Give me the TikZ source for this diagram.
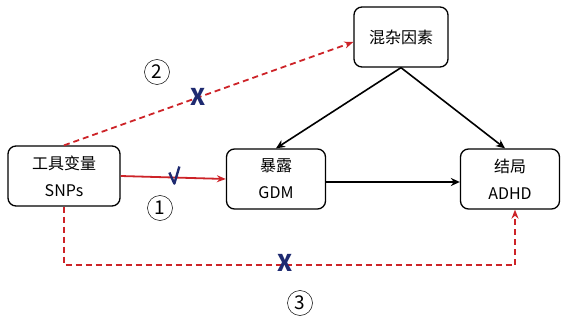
\documentclass[tikz,border=0pt]{standalone}
\usepackage{fontspec}
\setmainfont{Noto Sans CJK SC}
\usepackage{xcolor}
\usetikzlibrary{arrows.meta}
\definecolor{pathred}{RGB}{205,35,40}
\definecolor{marknavy}{RGB}{30,42,112}

\begin{document}
\begin{tikzpicture}[x=1pt,y=-1pt,
  varbox/.style={draw,line width=1.3pt,rounded corners=8pt,inner sep=0pt,align=center,
    minimum height=60pt,font=\fontsize{16}{27}\selectfont},
  causal/.style={line width=1.6pt,-{Stealth[length=9pt,width=8pt]}},
  ivpath/.style={pathred,line width=1.8pt,-{Stealth[length=9pt,width=7pt]}},
  ivdash/.style={ivpath,dash pattern=on 6pt off 4pt},
  marksign/.style={marknavy,font=\fontsize{23}{23}\selectfont\bfseries},
  tickmark/.style={marknavy,line width=2.4pt,line join=round},
  pathno/.style={circle,draw,line width=0.5pt,inner sep=0pt,minimum size=25pt,font=\fontsize{19}{19}\selectfont}]
\useasboundingbox (0,0) rectangle (565,326);
% variables
\node[varbox,minimum width=112pt] (iv) at (64,176) {工具变量\\SNPs};
\node[varbox,minimum width=94pt] (conf) at (401,37) {混杂因素};
\node[varbox,minimum width=99pt] (exp) at (276,179) {暴露\\GDM};
\node[varbox,minimum width=99pt] (out) at (510,179) {结局\\ADHD};
% confounding and causal effect
\draw[causal] (conf.south) -- (exp.north);
\draw[causal] (conf.south) -- ([xshift=-5pt]out.north);
\draw[causal] ([yshift=-3pt]exp.east) -- ([yshift=-3pt]out.west);
% instrument assumptions
\draw[ivpath] (iv.east) -- (exp.west) coordinate[pos=0.52] (tick);
\draw[tickmark] (tick) ++(-6,-5) -- ++(5,11) -- ++(5,-17);
\draw[ivdash] (iv.north) -- ([yshift=-5pt]conf.west) node[marksign,pos=0.465] {X};
\draw[ivdash] (iv.south) -- ++(0,58.5) coordinate (bend) -| ([xshift=5pt]out.south);
\node[marksign] (xdirect) at (285,263) {X};
\node[pathno] (n1) at (160,208) {1};
\node[pathno] (n2) at (157,72) {2};
\node[pathno] (n3) at (300,303) {3};
\end{tikzpicture}
\end{document}
